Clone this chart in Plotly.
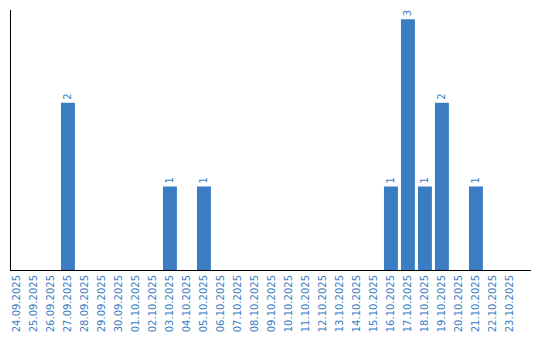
import plotly.graph_objects as go

dates = ["24.09.2025","25.09.2025","26.09.2025","27.09.2025","28.09.2025","29.09.2025",
         "30.09.2025","01.10.2025","02.10.2025","03.10.2025","04.10.2025","05.10.2025",
         "06.10.2025","07.10.2025","08.10.2025","09.10.2025","10.10.2025","11.10.2025",
         "12.10.2025","13.10.2025","14.10.2025","15.10.2025","16.10.2025","17.10.2025",
         "18.10.2025","19.10.2025","20.10.2025","21.10.2025","22.10.2025","23.10.2025"]
counts = [0,0,0,2,0,0,0,0,0,1,0,1,0,0,0,0,0,0,0,0,0,0,1,3,1,2,0,1,0,0]

blue = "#3a7dc3"
labels = [str(v) if v else "" for v in counts]

fig = go.Figure(go.Bar(
    x=dates, y=counts, text=labels, textposition="outside", textangle=-90,
    marker=dict(color=blue, line=dict(width=0)), width=0.82,
    textfont=dict(family="DejaVu Sans", size=10, color=blue),
    cliponaxis=False,
))
fig.update_layout(
    width=540, height=340, margin=dict(l=11, r=9, t=10, b=70),
    plot_bgcolor="white", paper_bgcolor="white", showlegend=False,
    font=dict(family="DejaVu Sans", size=10, color=blue),
)
fig.update_xaxes(type="category", range=[-0.35, 30.24], showline=True, linecolor="black",
                 linewidth=1, showgrid=False, tickangle=-90, ticks="",
                 tickfont=dict(family="DejaVu Sans", size=10, color=blue))
fig.update_yaxes(range=[0, 3.11], showline=True, linecolor="black", linewidth=1,
                 showgrid=False, showticklabels=False, ticks="", zeroline=False)
fig.write_html("out.html")
